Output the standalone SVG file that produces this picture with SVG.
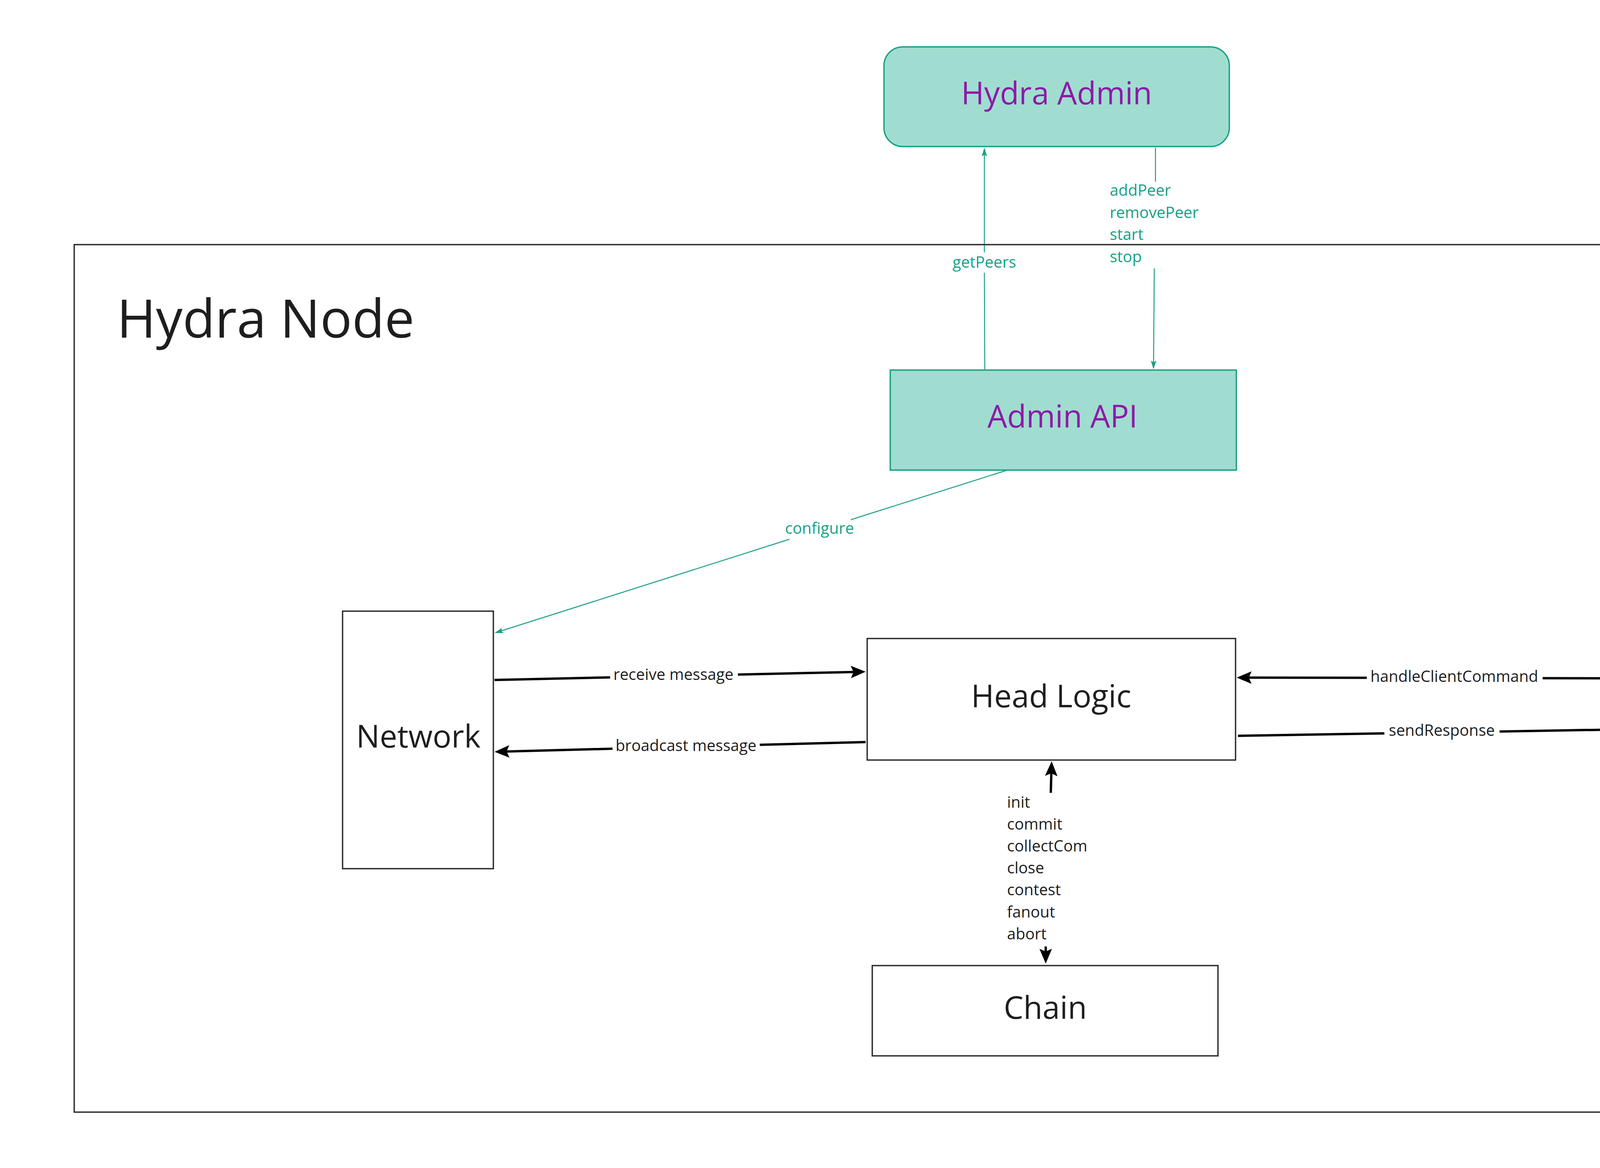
<svg xmlns="http://www.w3.org/2000/svg" width="5351" height="2989" viewBox="0 0 5351 2989">
<style>
  .box { fill: #ffffff; stroke: #2e2e2e; stroke-width: 3.5; }
  .tealbox { fill: #a0ddd0; stroke: #1aa085; stroke-width: 3.5; }
  .title { font-family: "Open Sans", "Noto Sans", sans-serif; fill: #1e1e1e; }
  .ptitle { font-family: "Open Sans", "Noto Sans", sans-serif; fill: #8e1aa8; font-size: 80px; text-anchor: middle; }
  .ntext { font-family: "Open Sans", "Noto Sans", sans-serif; fill: #1e1e1e; font-size: 80px; text-anchor: middle; }
  .lbl { font-family: "Open Sans", "Noto Sans", sans-serif; fill: #1e1e1e; font-size: 40px; }
  .tlbl { font-family: "Open Sans", "Noto Sans", sans-serif; fill: #17a086; font-size: 40px; }
  .blk { fill: none; stroke: #000000; stroke-width: 6; }
  .teal { fill: none; stroke: #1aa085; stroke-width: 2.5; }
</style>
<defs>
  <marker id="ab" viewBox="-40 -18 44 36" refX="-8" refY="0" markerWidth="44" markerHeight="36" markerUnits="userSpaceOnUse" orient="auto-start-reverse">
    <path d="M0,0 L-38,-16 L-31,0 L-38,16 Z" fill="#000000"/>
  </marker>
  <marker id="at" viewBox="-24 -9 27 18" refX="-3" refY="0" markerWidth="27" markerHeight="18" markerUnits="userSpaceOnUse" orient="auto-start-reverse">
    <path d="M0,0 L-22,-7 L-18,0 L-22,7 Z" fill="#1aa085"/>
  </marker>
</defs>

<g id="hydra-admin">
  <rect class="tealbox" x="2263" y="120" width="884" height="255" rx="48" ry="48"/>
  <text class="ptitle" x="2705" y="267">Hydra Admin</text>
</g>

<g id="admin-api">
  <rect class="tealbox" x="2279" y="947" width="886" height="256"/>
  <text class="ptitle" x="2720" y="1094">Admin API</text>
</g>

<g id="network">
  <rect class="box" x="877" y="1564" width="386" height="659"/>
  <text class="ntext" x="1071" y="1913">Network</text>
</g>

<g id="head-logic">
  <rect class="box" x="2220" y="1634" width="943" height="311"/>
  <text class="ntext" x="2691" y="1810">Head Logic</text>
</g>

<g id="api">
  <rect class="box" x="4255" y="1433" width="291" height="606"/>
  <text class="ntext" x="4398" y="1767" style="font-size:116px">API</text>
</g>

<g id="chain">
  <rect class="box" x="2233" y="2471" width="885" height="231"/>
  <text class="ntext" x="2676" y="2607">Chain</text>
</g>

<g id="connectors">
  <path class="teal" d="M2521,945 L2520,698 M2520,646 L2520,381" marker-end="url(#at)"/>
  <text class="tlbl" x="2520" y="685" text-anchor="middle">getPeers</text>

  <path class="teal" d="M2958,378 L2958,465 M2955,687 L2953,942" marker-end="url(#at)"/>
  <text class="tlbl" x="2841" y="501">addPeer</text>
  <text class="tlbl" x="2841" y="558">removePeer</text>
  <text class="tlbl" x="2841" y="614">start</text>
  <text class="tlbl" x="2841" y="671">stop</text>

  <path class="teal" d="M2579,1203 L2178,1330 M2021,1380 L1269,1619" marker-end="url(#at)"/>
  <text class="tlbl" x="2098" y="1366" text-anchor="middle">configure</text>

  <path class="blk" d="M1266,1740 L1562,1733.4 M1889,1726.2 L2208,1719.2" marker-end="url(#ab)"/>
  <text class="lbl" x="1724" y="1740" text-anchor="middle">receive message</text>

  <path class="blk" d="M2216,1899 L1945,1906.1 M1568,1916 L1274,1923.8" marker-end="url(#ab)"/>
  <text class="lbl" x="1756" y="1922" text-anchor="middle">broadcast message</text>

  <path class="blk" d="M4255,1736 L3949,1735.4 M3499,1734.6 L3174,1734" marker-end="url(#ab)"/>
  <text class="lbl" x="3723" y="1745" text-anchor="middle">handleClientCommand</text>

  <path class="blk" d="M3169,1883 L3544,1876.8 M3839,1871.9 L4246,1865.1" marker-end="url(#ab)"/>
  <text class="lbl" x="3691" y="1883" text-anchor="middle">sendResponse</text>

  <path class="blk" d="M2692,1956 L2690,2029 M2677,2422 L2677,2458" marker-start="url(#ab)" marker-end="url(#ab)"/>
  <text class="lbl" x="2578" y="2067">init</text>
  <text class="lbl" x="2578" y="2123">commit</text>
  <text class="lbl" x="2578" y="2179">collectCom</text>
  <text class="lbl" x="2578" y="2235">close</text>
  <text class="lbl" x="2578" y="2291">contest</text>
  <text class="lbl" x="2578" y="2348">fanout</text>
  <text class="lbl" x="2578" y="2404">abort</text>
</g>

<g id="hydra-node">
  <rect x="190" y="626" width="4799" height="2220" fill="none" stroke="#2e2e2e" stroke-width="3.5"/>
  <text class="title" x="299" y="864" style="font-size:136px">Hydra Node</text>
</g>
</svg>
